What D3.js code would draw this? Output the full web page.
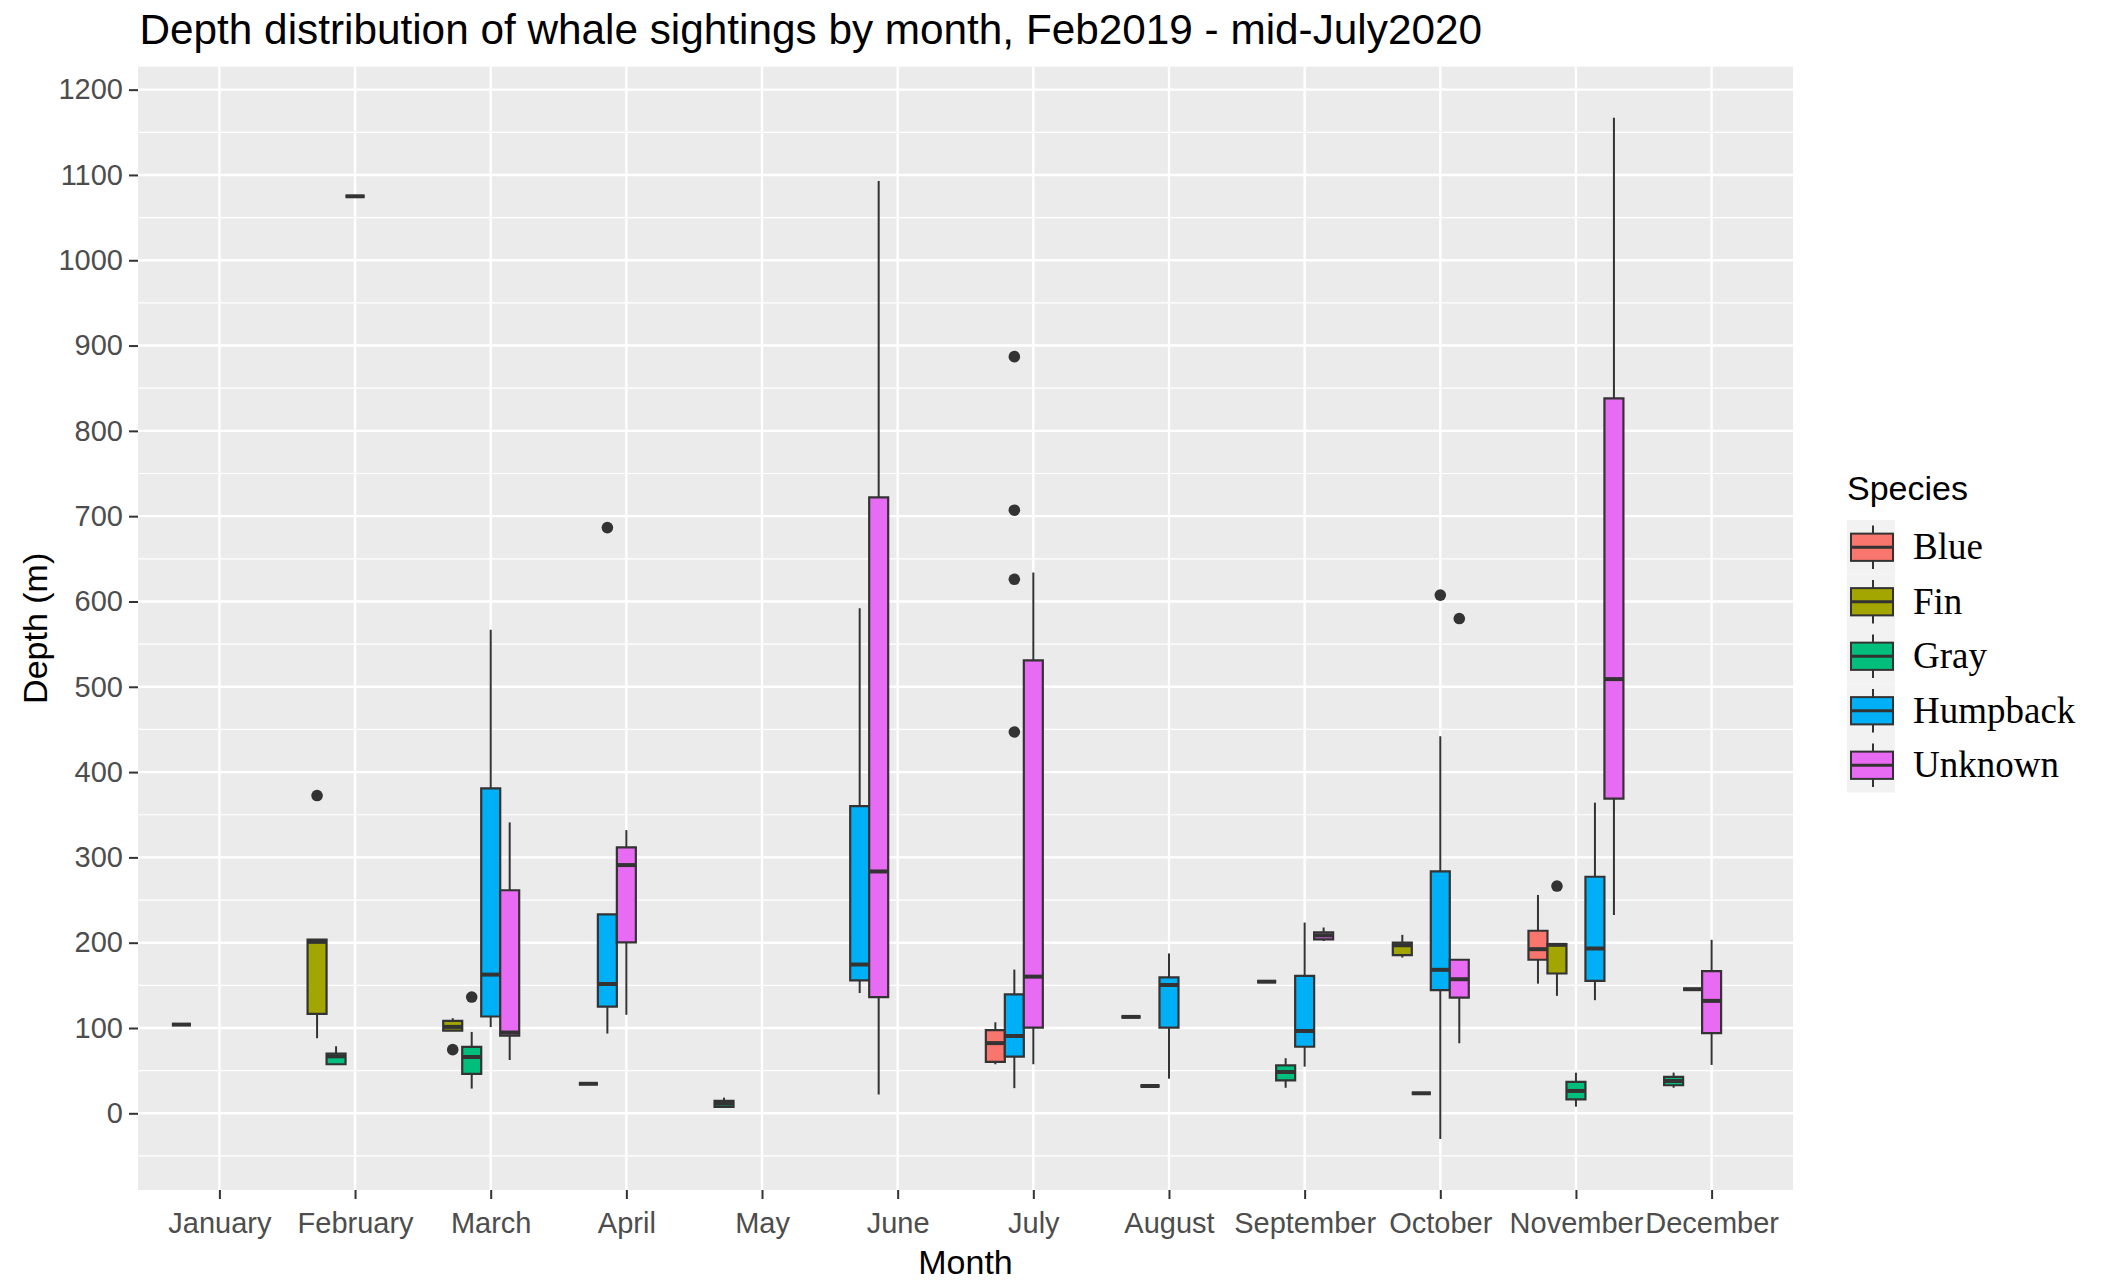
<!DOCTYPE html>
<html>
<head>
<meta charset="utf-8">
<script src="https://cdn.jsdelivr.net/npm/d3@7/dist/d3.min.js"></script>
<style>
  body { margin: 0; background: #fff; }
  text { font-family: 'Liberation Sans', Arial, sans-serif; }
</style>
</head>
<body>
<svg id="chart" width="2106" height="1280"></svg>
<script>
// x categories
const months = ['January', 'February', 'March', 'April', 'May', 'June', 'July',
  'August', 'September', 'October', 'November', 'December'];
// fill groups, legend order
const species = ['Blue', 'Fin', 'Gray', 'Humpback', 'Unknown'];
// y axis ticks
const yTicks = [0, 100, 200, 300, 400, 500, 600, 700, 800, 900, 1000, 1100, 1200];

// box stats: month, species, lower whisker, q1, median, q3, upper whisker
const boxes = [
  ['January', 'Gray', 104, 104, 104, 104, 104],
  ['February', 'Fin', 88, 116.5, 201, 203.5, 203.5],
  ['February', 'Gray', 57.5, 57.5, 66.8, 70, 78.6],
  ['February', 'Humpback', 1075, 1075, 1075, 1075, 1075],
  ['March', 'Fin', 97, 97, 101.3, 108.4, 111.5],
  ['March', 'Gray', 29, 46.3, 66, 77.8, 95.4],
  ['March', 'Humpback', 101.3, 113.5, 162.6, 381, 567],
  ['March', 'Unknown', 62.5, 91, 94.7, 261.5, 341],
  ['April', 'Gray', 34.6, 34.6, 34.6, 34.6, 34.6],
  ['April', 'Humpback', 93.5, 125, 151.6, 233.3, 233.3],
  ['April', 'Unknown', 115.5, 200.3, 291, 311.8, 332],
  ['May', 'Gray', 7.5, 7.5, 11.4, 14.5, 18.4],
  ['June', 'Humpback', 141, 155.9, 174.4, 360, 592],
  ['June', 'Unknown', 22, 136.2, 283.5, 722, 1093],
  ['July', 'Blue', 57.5, 60.2, 82.3, 97.6, 106.7],
  ['July', 'Humpback', 29.5, 66.5, 90.6, 139.4, 168.5],
  ['July', 'Unknown', 57.5, 100.4, 160.2, 531, 634],
  ['August', 'Fin', 113, 113, 113, 113, 113],
  ['August', 'Gray', 32, 32, 32, 32, 32],
  ['August', 'Humpback', 40.6, 100.4, 150.4, 159.4, 187.4],
  ['September', 'Fin', 154.3, 154.3, 154.3, 154.3, 154.3],
  ['September', 'Gray', 29.9, 38.6, 48.4, 56.3, 64.6],
  ['September', 'Humpback', 54.7, 78, 96.5, 161.2, 223.6],
  ['September', 'Unknown', 202, 204, 208.5, 212, 217.8],
  ['October', 'Fin', 182.6, 185.4, 197, 200.2, 209.2],
  ['October', 'Gray', 23.5, 23.5, 23.5, 23.5, 23.5],
  ['October', 'Humpback', -30, 144.3, 168.2, 283.5, 442],
  ['October', 'Unknown', 82.1, 135.7, 157.2, 180, 180],
  ['November', 'Blue', 152, 180, 192.4, 214, 256],
  ['November', 'Fin', 137.7, 163.9, 197.5, 198.3, 198.3],
  ['November', 'Gray', 7.8, 16.4, 26.2, 36.8, 47.7],
  ['November', 'Humpback', 132.6, 155.3, 193.2, 277.3, 364.2],
  ['November', 'Unknown', 232.5, 369, 509, 838, 1167],
  ['December', 'Gray', 30, 32.9, 37.9, 42.6, 47.7],
  ['December', 'Humpback', 145.5, 145.5, 145.5, 145.5, 145.5],
  ['December', 'Unknown', 56.7, 93.9, 131.8, 166.6, 203.4],
];

// outlier points: month, species, depth
const outliers = [
  ['February', 'Fin', 372.5],
  ['March', 'Fin', 74.6],
  ['March', 'Gray', 136.3],
  ['April', 'Humpback', 686.6],
  ['July', 'Humpback', 887],
  ['July', 'Humpback', 707],
  ['July', 'Humpback', 626],
  ['July', 'Humpback', 447],
  ['October', 'Humpback', 607.5],
  ['October', 'Unknown', 580],
  ['November', 'Fin', 266.4],
];

// ggplot hue palette
const fills = ['#F8766D', '#A3A500', '#00BF7D', '#00B0F6', '#E76BF3'];

// panel box
const panel = { left: 138, right: 1793, top: 66.7, bottom: 1190 };
const ink = '#333333';
const sans = "'Liberation Sans', Arial, sans-serif";
const serif = "'Liberation Serif', 'Times New Roman', serif";

const svg = d3.select('#chart');

const x = d3.scalePoint().domain(months).range([panel.left, panel.right]).padding(0.6);
const y = d3.scaleLinear().domain([-89.9, 1226.9]).range([panel.bottom, panel.top]);
const color = d3.scaleOrdinal().domain(species).range(fills);

// dodge like position_dodge(preserve = 'single')
const step = x.step();
const dodge = 0.7;
const boxW = (step * dodge) / species.length;
const slot = (m, s) => {
  let present = species.filter((sp) => boxes.some((b) => b[0] === m && b[1] === sp));
  return present.indexOf(s);
};
const cx = (m, s) => x(m) + step * dodge * ((slot(m, s) + 0.5) / species.length - 0.5);

// title
svg
  .append('text')
  .attr('x', 139.5)
  .attr('y', 44)
  .attr('font-size', 42.3)
  .attr('fill', '#000')
  .text('Depth distribution of whale sightings by month, Feb2019 - mid-July2020');

// panel background
svg
  .append('rect')
  .attr('x', panel.left)
  .attr('y', panel.top)
  .attr('width', panel.right - panel.left)
  .attr('height', panel.bottom - panel.top)
  .attr('fill', '#EBEBEB');

// grid
const grid = svg.append('g');
const minor = d3.range(-50, 1250, 100).filter((v) => y(v) > panel.top && y(v) < panel.bottom);
grid
  .selectAll('.minor')
  .data(minor)
  .join('line')
  .attr('x1', panel.left)
  .attr('x2', panel.right)
  .attr('y1', (d) => y(d))
  .attr('y2', (d) => y(d))
  .attr('stroke', '#fff')
  .attr('stroke-width', 1.2);
grid
  .selectAll('.hmajor')
  .data(yTicks)
  .join('line')
  .attr('x1', panel.left)
  .attr('x2', panel.right)
  .attr('y1', (d) => y(d))
  .attr('y2', (d) => y(d))
  .attr('stroke', '#fff')
  .attr('stroke-width', 2.4);
grid
  .selectAll('.vmajor')
  .data(months)
  .join('line')
  .attr('x1', (d) => x(d))
  .attr('x2', (d) => x(d))
  .attr('y1', panel.top)
  .attr('y2', panel.bottom)
  .attr('stroke', '#fff')
  .attr('stroke-width', 2.4);

// boxes
const g = svg
  .append('g')
  .selectAll('g')
  .data(boxes)
  .join('g');

g.append('line')
  .attr('x1', (d) => cx(d[0], d[1]))
  .attr('x2', (d) => cx(d[0], d[1]))
  .attr('y1', (d) => y(d[2]))
  .attr('y2', (d) => y(d[6]))
  .attr('stroke', ink)
  .attr('stroke-width', 2);

g.append('path')
  .attr('d', (d) => {
    let c = cx(d[0], d[1]);
    return `M${c - boxW / 2},${y(d[5])}H${c + boxW / 2}V${y(d[3])}H${c - boxW / 2}Z`;
  })
  .attr('fill', (d) => color(d[1]))
  .attr('stroke', ink)
  .attr('stroke-width', 2.2);

g.append('line')
  .attr('x1', (d) => cx(d[0], d[1]) - boxW / 2)
  .attr('x2', (d) => cx(d[0], d[1]) + boxW / 2)
  .attr('y1', (d) => y(d[4]))
  .attr('y2', (d) => y(d[4]))
  .attr('stroke', ink)
  .attr('stroke-width', 4);

// outliers
svg
  .append('g')
  .selectAll('circle')
  .data(outliers)
  .join('circle')
  .attr('cx', (d) => cx(d[0], d[1]))
  .attr('cy', (d) => y(d[2]))
  .attr('r', 5.8)
  .attr('fill', ink);

// axes
const yAxis = svg
  .append('g')
  .attr('transform', `translate(${panel.left},0)`)
  .call(d3.axisLeft(y).tickValues(yTicks).tickFormat(d3.format('d')).tickSize(9).tickPadding(6));
const xAxis = svg
  .append('g')
  .attr('transform', `translate(0,${panel.bottom})`)
  .call(d3.axisBottom(x).tickSize(9).tickPadding(13));

[yAxis, xAxis].forEach((ax) => {
  ax.select('.domain').remove();
  ax.selectAll('.tick line').attr('stroke', ink).attr('stroke-width', 2);
  ax.selectAll('.tick text')
    .attr('fill', '#4D4D4D')
    .attr('font-size', 29)
    .style('font-family', sans);
});

// axis titles
svg
  .append('text')
  .attr('x', (panel.left + panel.right) / 2)
  .attr('y', 1274)
  .attr('text-anchor', 'middle')
  .attr('font-size', 34)
  .text('Month');

svg
  .append('text')
  .attr('transform', `translate(47,${(panel.top + panel.bottom) / 2}) rotate(-90)`)
  .attr('text-anchor', 'middle')
  .attr('font-size', 34)
  .text('Depth (m)');

// legend
const keyH = 54.5,
  keyW = 48,
  legX = 1847,
  legY = 520;

svg
  .append('text')
  .attr('x', legX)
  .attr('y', 500)
  .attr('font-size', 34)
  .text('Species');

const keys = svg
  .append('g')
  .selectAll('g')
  .data(species)
  .join('g')
  .attr('transform', (d, i) => `translate(${legX},${legY + i * keyH})`);

keys
  .append('rect')
  .attr('width', keyW)
  .attr('height', keyH)
  .attr('fill', '#F2F2F2');

keys
  .append('line')
  .attr('x1', keyW / 2 + 2)
  .attr('x2', keyW / 2 + 2)
  .attr('y1', keyH * 0.1)
  .attr('y2', keyH * 0.9)
  .attr('stroke', ink)
  .attr('stroke-width', 2);

keys
  .append('rect')
  .attr('x', 4)
  .attr('y', keyH * 0.25)
  .attr('width', keyW - 6)
  .attr('height', keyH * 0.5)
  .attr('fill', (d) => color(d))
  .attr('stroke', ink)
  .attr('stroke-width', 2);

keys
  .append('line')
  .attr('x1', 4)
  .attr('x2', keyW - 2)
  .attr('y1', keyH / 2)
  .attr('y2', keyH / 2)
  .attr('stroke', ink)
  .attr('stroke-width', 3);

keys
  .append('text')
  .attr('x', 1913 - legX)
  .attr('y', keyH / 2 + 12)
  .style('font-family', serif)
  .attr('font-size', 37)
  .attr('fill', '#000')
  .text((d) => d);
</script>
</body>
</html>
